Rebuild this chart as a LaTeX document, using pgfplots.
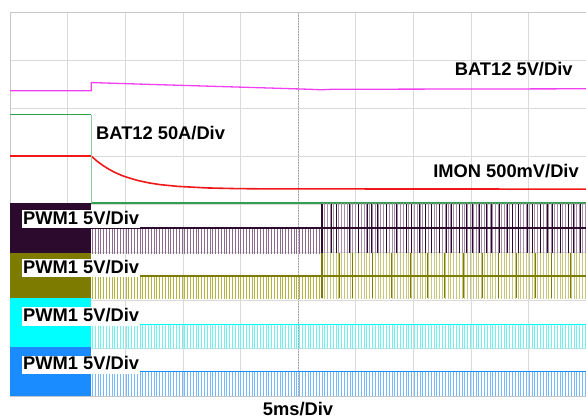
\documentclass[border=0pt]{standalone}
\usepackage{fontspec}
\setmainfont{Liberation Sans}
\usepackage{pgfplots}
\pgfplotsset{compat=1.18}
\usetikzlibrary{patterns.meta}

\definecolor{scopemag}{HTML}{F040F0}
\definecolor{scopegreen}{RGB}{48,160,80}
\definecolor{scopegreenlt}{RGB}{140,205,160}
\definecolor{scopered}{HTML}{F01818}
\definecolor{plum}{HTML}{2C0A2E}
\definecolor{plumlt}{HTML}{8C6A8E}
\definecolor{plumxl}{HTML}{A68EA8}
\definecolor{olv}{HTML}{7E7C00}
\definecolor{olvlt}{HTML}{B4B240}
\definecolor{olvxl}{HTML}{C8C67A}
\definecolor{cyn}{HTML}{00FFFF}
\definecolor{cynlt}{HTML}{70F2F2}
\definecolor{blu}{HTML}{1A8CFF}
\definecolor{blult}{HTML}{78B8FF}
\definecolor{gridc}{HTML}{DADADA}

\tikzset{pwmticks/.style={draw=none, pattern={Lines[angle=90,distance=2.8pt,line width=0.65pt]}, pattern color=#1}}
\newcommand{\lbl}{\bfseries\fontsize{18.3}{20}\selectfont}

\begin{document}
\begin{tikzpicture}
\useasboundingbox (-10pt,-23pt) rectangle (576pt,396pt);
\begin{axis}[
  at={(0,0)}, anchor=south west,
  scale only axis, width=576pt, height=384pt,
  xmin=0, xmax=10, ymin=0, ymax=8,
  xtick={0,...,10}, ytick={0,...,8},
  xticklabels={}, yticklabels={},
  major tick length=0pt,
  grid=major,
  major grid style={gridc, line width=0.6pt},
  axis line style={gray!45},
  clip=false,
]
% centre line
\addplot[gray!70, densely dotted, line width=0.6pt] coordinates {(5,0) (5,8)};

% BAT12 current, after the switch
\addplot[scopegreen, line width=1.2pt] coordinates {(1.41,4.02) (10,4.02)};

% PWM blocks before the switch
\addplot[fill=plum, draw=none] coordinates {(0,2.97) (1.41,2.97) (1.41,4.03) (0,4.03)} --cycle;
\addplot[fill=olv, draw=none] coordinates {(0,2.04) (1.41,2.04) (1.41,2.97) (0,2.97)} --cycle;
\addplot[fill=cyn, draw=none] coordinates {(0,1.03) (1.41,1.03) (1.41,2.04) (0,2.04)} --cycle;
\addplot[fill=blu, draw=none] coordinates {(0,0) (1.41,0) (1.41,1.03) (0,1.03)} --cycle;

% PWM pulses after the switch
\addplot[pwmticks=plumlt] coordinates {(1.41,2.97) (5.42,2.97) (5.42,3.5) (1.41,3.5)} --cycle;
\addplot[pwmticks=plumxl] coordinates {(5.42,2.97) (10,2.97) (10,4.0) (5.42,4.0)} --cycle;
\addplot[pwmticks=olvlt] coordinates {(1.41,2.04) (5.42,2.04) (5.42,2.5) (1.41,2.5)} --cycle;
\addplot[pwmticks=olvxl] coordinates {(5.42,2.04) (10,2.04) (10,2.97) (5.42,2.97)} --cycle;
\addplot[pwmticks=cynlt] coordinates {(1.41,0.98) (10,0.98) (10,1.49) (1.41,1.49)} --cycle;
\addplot[pwmticks=blult] coordinates {(1.41,0) (10,0) (10,0.51) (1.41,0.51)} --cycle;

% dark spikes after 5.42
\addplot[draw=none, mark=none, error bars/.cd, y dir=both, y fixed=0.51, error mark=none,
  error bar style={draw=plum, line width=0.8pt}] coordinates {
  (5.58,3.49) (5.67,3.49) (5.90,3.49) (6.04,3.49) (6.21,3.49) (6.28,3.49) (6.38,3.49) (6.54,3.49)
  (6.71,3.49) (6.88,3.49) (6.97,3.49) (7.10,3.49) (7.22,3.49) (7.31,3.49) (7.45,3.49) (7.58,3.49)
  (7.66,3.49) (7.80,3.49) (7.93,3.49) (8.02,3.49) (8.15,3.49) (8.27,3.49) (8.36,3.49) (8.50,3.49)
  (8.64,3.49) (8.73,3.49) (8.83,3.49) (8.98,3.49) (9.07,3.49) (9.20,3.49) (9.33,3.49) (9.42,3.49)
  (9.55,3.49) (9.69,3.49) (9.78,3.49) (9.91,3.49)};
\addplot[draw=none, mark=none, error bars/.cd, y dir=both, y fixed=0.465, error mark=none,
  error bar style={draw=olv, line width=0.8pt}] coordinates {
  (5.72,2.505) (5.95,2.505) (6.30,2.505) (6.62,2.505) (6.95,2.505) (7.25,2.505) (7.55,2.505)
  (7.88,2.505) (8.20,2.505) (8.48,2.505) (8.80,2.505) (9.12,2.505) (9.40,2.505) (9.73,2.505)};
\addplot[plum, line width=1.8pt] coordinates {(5.42,2.97) (5.42,4.0)};
\addplot[olv, line width=1.8pt] coordinates {(5.42,2.04) (5.42,2.97)};

% PWM levels
\addplot[plum, line width=1.4pt] coordinates {(1.41,3.5) (10,3.5)};
\addplot[olv, line width=1.4pt] coordinates {(1.41,2.5) (10,2.5)};
\addplot[cyn, line width=1.4pt] coordinates {(1.41,1.49) (10,1.49)};
\addplot[blu, line width=1.2pt] coordinates {(1.41,0.51) (10,0.51)};

% IMON
\addplot[scopered, line width=1.6pt] coordinates {
  (0,5.00) (1.41,5.00) (1.51,4.894) (1.61,4.805) (1.71,4.729) (1.81,4.664) (1.91,4.610)
  (2.01,4.564) (2.21,4.492) (2.41,4.440) (2.61,4.403) (2.91,4.367) (3.41,4.335)
  (3.91,4.321) (4.41,4.315) (10,4.31)};

% BAT12 voltage
\addplot[scopemag, line width=1.3pt] coordinates {
  (0,6.36) (1.41,6.36) (1.41,6.53) (2.2,6.50) (3.3,6.46) (4.4,6.42) (5.2,6.39)
  (5.4,6.38) (5.6,6.39) (10,6.40)};

% BAT12 current, before the switch and the step
\addplot[scopegreenlt, line width=1.2pt] coordinates {(1.41,5.86) (1.41,4.03)};
\addplot[scopegreen, line width=1.5pt] coordinates {(0,5.86) (1.41,5.86)};

% labels
\node[anchor=base east, inner sep=0pt] at (9.77,6.667) {\lbl BAT12 5V/Div};
\node[anchor=base west, inner sep=0pt] at (1.493,5.354) {\lbl BAT12 50A/Div};
\node[anchor=base east, inner sep=0pt] at (9.878,4.542) {\lbl IMON 500mV/Div};
\node[anchor=base west, fill=white, inner sep=1pt, text depth=3pt] at (0.208,3.577) {\lbl PWM1 5V/Div};
\node[anchor=base west, fill=white, inner sep=1pt, text depth=3pt] at (0.208,2.556) {\lbl PWM1 5V/Div};
\node[anchor=base west, fill=white, inner sep=1pt, text depth=3pt] at (0.208,1.548) {\lbl PWM1 5V/Div};
\node[anchor=base west, fill=white, inner sep=1pt, text depth=3pt] at (0.208,0.542) {\lbl PWM1 5V/Div};
\node[anchor=base, inner sep=0pt] at (5,-0.396) {\lbl 5ms/Div};
\end{axis}
\end{tikzpicture}
\end{document}
